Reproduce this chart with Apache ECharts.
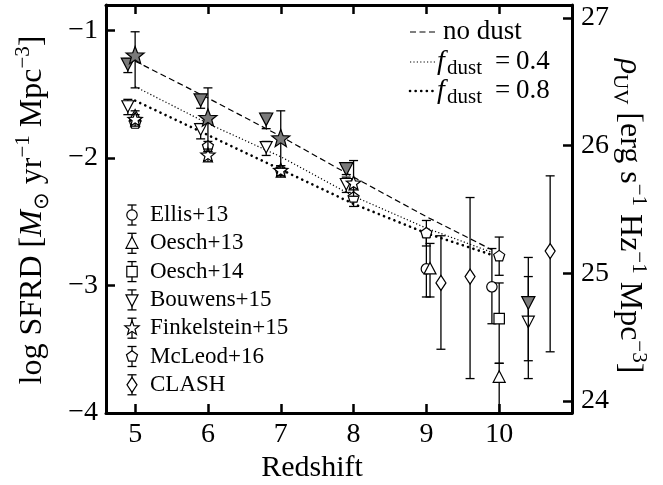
<!DOCTYPE html>
<html><head><meta charset="utf-8">
<script src="https://cdn.jsdelivr.net/npm/echarts@6/dist/echarts.min.js"></script>
<style>html,body{margin:0;padding:0;background:#fff}#c{width:663px;height:485px}</style>
</head><body><div id="c"></div>
<script>
// ---------- data ----------
const xTicks = [5, 6, 7, 8, 9, 10];
const yTicks = [-4, -3, -2, -1];
const rTicks = [24, 25, 26, 27];

const modelZ   = [5, 6, 7, 8, 9, 9.9];
const noDust   = [-1.24, -1.53, -1.83, -2.15, -2.46, -2.72];
const fDust04  = [-1.44, -1.73, -1.99, -2.30, -2.55, -2.74];
const fDust08  = [-1.55, -1.82, -2.09, -2.36, -2.59, -2.76];

const clashZ = [9.2, 9.6, 10.7];
const clashY = [-2.98, -2.93, -2.73];
const clashUp = [0.37, 0.62, 0.59];
const clashDn = [0.52, 0.80, 0.79];

const ellisZ = [9.0, 9.9];
const ellisY = [-2.87, -3.01];
const ellisUp = [0.25, 0.30];
const ellisDn = [0.22, 0.29];

const oesch13Z = [5.0, 9.05, 10.0];
const oesch13Y = [-1.67, -2.87, -3.72];
const oesch13Up = [0.04, 0.20, 0.11];
const oesch13Dn = [0.04, 0.22, 0.45];

const oesch14Z = [10.0];
const oesch14Y = [-3.26];
const oesch14Up = [0.28];
const oesch14Dn = [0.35];

const mcleodZ = [5, 6, 7, 8, 9, 10];
const mcleodY = [-1.73, -1.91, -2.10, -2.31, -2.59, -2.77];
const mcleodUp = [0.03, 0.04, 0.04, 0.06, 0.10, 0.15];
const mcleodDn = [0.03, 0.04, 0.05, 0.07, 0.10, 0.15];

const bouwensZ = [4.9, 5.9, 6.8, 7.9, 10.4];
const bouwensY = [-1.59, -1.77, -1.91, -2.20, -3.28];
const bouwensUp = [0.05, 0.04, 0.04, 0.05, 0.35];
const bouwensDn = [0.07, 0.08, 0.07, 0.07, 0.31];

const bouwensGrayZ = [4.9, 5.9, 6.8, 7.9, 10.4];
const bouwensGrayY = [-1.26, -1.54, -1.69, -2.08, -3.13];
const bouwensGrayUp = [0.04, 0.03, 0.04, 0.04, 0.35];
const bouwensGrayDn = [0.07, 0.07, 0.08, 0.05, 0.60];

const finkZ = [5, 6, 7, 8];
const finkY = [-1.70, -1.98, -2.10, -2.20];
const finkUp = [0.04, 0.05, 0.04, 0.18];
const finkDn = [0.05, 0.05, 0.04, 0.10];

const finkGrayZ = [5, 6, 7];
const finkGrayY = [-1.20, -1.69, -1.85];
const finkGrayUp = [0.19, 0.24, 0.22];
const finkGrayDn = [0.25, 0.26, 0.23];

const legendNames = ['Ellis+13', 'Oesch+13', 'Oesch+14', 'Bouwens+15', 'Finkelstein+15', 'McLeod+16', 'CLASH'];
const legendKinds = ['circle', 'triUp', 'square', 'triDown', 'star', 'pentagon', 'diamond'];

// ---------- helpers ----------
const FONT = '"Liberation Serif", "Times New Roman", serif';
const GRAY = '#7a7a7a';

function regPoly(cx, cy, R, n, rot) {
  const pts = [];
  for (let k = 0; k < n; k++) {
    const a = rot + k * 2 * Math.PI / n;
    pts.push([cx + R * Math.cos(a), cy + R * Math.sin(a)]);
  }
  return pts;
}
function starPts(cx, cy, R, r) {
  const pts = [];
  for (let k = 0; k < 10; k++) {
    const a = -Math.PI / 2 + k * Math.PI / 5;
    const rr = k % 2 === 0 ? R : r;
    pts.push([cx + rr * Math.cos(a), cy + rr * Math.sin(a)]);
  }
  return pts;
}
function markerEl(kind, cx, cy, fill, big) {
  const st = {fill: fill, stroke: '#000', lineWidth: 1.2};
  switch (kind) {
    case 'circle': return {type: 'circle', shape: {cx, cy, r: 5.2}, style: st};
    case 'square': return {type: 'rect', shape: {x: cx - 5.2, y: cy - 5.2, width: 10.4, height: 10.4}, style: st};
    case 'triUp': return {type: 'polygon', shape: {points: [[cx, cy - 6.5], [cx + 6, cy + 5], [cx - 6, cy + 5]]}, style: st};
    case 'triDown': { const s = big ? 1.1 : 1; return {type: 'polygon', shape: {points: [[cx - 6 * s, cy - 5 * s], [cx + 6 * s, cy - 5 * s], [cx, cy + 6.5 * s]]}, style: st}; }
    case 'diamond': return {type: 'polygon', shape: {points: [[cx, cy - 7.5], [cx + 5, cy], [cx, cy + 7.5], [cx - 5, cy]]}, style: st};
    case 'pentagon': return {type: 'polygon', shape: {points: regPoly(cx, cy, 5.8, 5, -Math.PI / 2)}, style: st};
    case 'star': { const R = big ? 9.5 : 7.5; return {type: 'polygon', shape: {points: starPts(cx, cy, R, R * 0.42)}, style: st}; }
  }
}
function errBarEls(x, y1, y2, w) {
  const st = {stroke: '#000', lineWidth: 1.3, fill: null};
  return [
    {type: 'line', shape: {x1: x, y1: y1, x2: x, y2: y2}, style: st},
    {type: 'line', shape: {x1: x - w, y1: y1, x2: x + w, y2: y1}, style: st},
    {type: 'line', shape: {x1: x - w, y1: y2, x2: x + w, y2: y2}, style: st}
  ];
}
function pointSeries(name, zs, ys, ups, dns, kind, fill, big) {
  return {
    type: 'custom', name: name, clip: true, z: 3,
    data: zs.map((z, i) => [z, ys[i], ups[i], dns[i]]),
    encode: {x: 0, y: 1},
    renderItem: function (params, api) {
      const z = api.value(0), y = api.value(1), up = api.value(2), dn = api.value(3);
      const c = api.coord([z, y]);
      const top = api.coord([z, y + up]);
      const bot = api.coord([z, y - dn]);
      return {type: 'group', children: errBarEls(c[0], top[1], bot[1], 4.5).concat([markerEl(kind, c[0], c[1], fill, big)])};
    }
  };
}
function lineSeries(ys, lineStyle) {
  return {type: 'line', data: modelZ.map((z, i) => [z, ys[i]]), showSymbol: false, silent: true, z: 2,
    lineStyle: Object.assign({color: '#000'}, lineStyle)};
}

// ---------- graphics (legends and axis names) ----------
const graphics = [];
const legY0 = 215, legDy = 28.3, legX = 132;
legendNames.forEach((n, i) => {
  const cy = legY0 + i * legDy;
  errBarEls(legX, cy - 10, cy + 10, 4.5).forEach(e => graphics.push(e));
  graphics.push(markerEl(legendKinds[i], legX, cy, '#fff', false));
  graphics.push({type: 'text', x: 150, y: cy, style: {text: n, fontSize: 23, fontFamily: FONT, fill: '#000', align: 'left', verticalAlign: 'middle'}});
});
// top-right legend
const tr = [
  {y: 32, dash: [6, 3.5], w: 1.2, cap: 'butt'},
  {y: 62, dash: [1.2, 2.2], w: 1.2, cap: 'butt'},
  {y: 91, dash: [0.1, 5.5], w: 2.6, cap: 'round'}
];
tr.forEach(r => graphics.push({type: 'line', shape: {x1: 410, y1: r.y, x2: 437, y2: r.y},
  style: {stroke: '#000', lineWidth: r.w, lineDash: r.dash, lineCap: r.cap}}));
graphics.push({type: 'text', x: 443, y: 32, style: {text: 'no dust', fontSize: 27, fontFamily: FONT, fill: '#000', align: 'left', verticalAlign: 'middle'}});
[['0.4', 62], ['0.8', 91]].forEach(([v, y]) => {
  graphics.push({type: 'text', x: 437, y: y, style: {text: 'f', fontSize: 28, fontStyle: 'italic', fontFamily: FONT, fill: '#000', align: 'left', verticalAlign: 'middle'}});
  graphics.push({type: 'text', x: 447, y: y + 6, style: {text: 'dust', fontSize: 21, fontFamily: FONT, fill: '#000', align: 'left', verticalAlign: 'middle'}});
  graphics.push({type: 'text', x: 495, y: y, style: {text: '=', fontSize: 27, fontFamily: FONT, fill: '#000', align: 'left', verticalAlign: 'middle'}});
  graphics.push({type: 'text', x: 516, y: y, style: {text: v, fontSize: 27, fontFamily: FONT, fill: '#000', align: 'left', verticalAlign: 'middle'}});
});
const richSup = {
  i: {fontStyle: 'italic', fontSize: 32, fontFamily: FONT, lineHeight: 40},
  sup: {fontSize: 21, fontFamily: FONT, lineHeight: 21, verticalAlign: 'top'},
  sub: {fontSize: 21, fontFamily: FONT, lineHeight: 21, verticalAlign: 'bottom'}
};
graphics.push({type: 'text', x: 33, y: 210, rotation: Math.PI / 2,
  style: {text: 'log SFRD [{i|M}{sub|\u2299} yr{sup|\u22121} Mpc{sup|\u22123}]', fontSize: 32, fontFamily: FONT, lineHeight: 40,
    fill: '#000', align: 'center', verticalAlign: 'middle', rich: richSup}});
graphics.push({type: 'text', x: 629, y: 216, rotation: -Math.PI / 2,
  style: {text: '{i|\u03C1}{sub|UV} [erg s{sup|\u22121} Hz{sup|\u22121} Mpc{sup|\u22123}]', fontSize: 32, fontFamily: FONT, lineHeight: 40,
    fill: '#000', align: 'center', verticalAlign: 'middle', rich: richSup}});
graphics.push({type: 'text', x: 312, y: 468, style: {text: 'Redshift', fontSize: 30, fontFamily: FONT, fill: '#000', align: 'center', verticalAlign: 'middle'}});

// ---------- axes ----------
const axLine = {show: true, onZero: false, lineStyle: {color: '#000', width: 3}};
const tickStyle = {color: '#000', width: 2.5};
const minusFmt = v => (v < 0 ? '\u2212' : '') + Math.abs(v);

const option = {
  animation: false,
  backgroundColor: '#fff',
  grid: {left: 106, right: 91, top: 5, bottom: 72, containLabel: false},
  xAxis: [
    {type: 'value', min: 4.6, max: 11, position: 'bottom', axisLine: axLine,
      axisTick: {show: true, inside: true, length: 9, customValues: xTicks, lineStyle: tickStyle},
      axisLabel: {customValues: xTicks, fontSize: 28, fontFamily: FONT, color: '#000', margin: 8},
      splitLine: {show: false}},
    {type: 'value', min: 4.6, max: 11, position: 'top', axisLine: axLine,
      axisTick: {show: true, inside: true, length: 9, customValues: xTicks, lineStyle: tickStyle},
      axisLabel: {show: false}, splitLine: {show: false}}
  ],
  yAxis: [
    {type: 'value', min: -4, max: -0.8, position: 'left', axisLine: axLine,
      axisTick: {show: true, inside: true, length: 9, customValues: yTicks, lineStyle: tickStyle},
      axisLabel: {customValues: yTicks, formatter: minusFmt, fontSize: 28, fontFamily: FONT, color: '#000', margin: 8},
      splitLine: {show: false}},
    {type: 'value', min: 23.905, max: 27.1, position: 'right', axisLine: axLine,
      axisTick: {show: true, inside: true, length: 9, customValues: rTicks, lineStyle: tickStyle},
      axisLabel: {customValues: rTicks, fontSize: 28, fontFamily: FONT, color: '#000', margin: 9},
      splitLine: {show: false}}
  ],
  series: [
    lineSeries(noDust, {width: 1.2, type: [6, 3.5]}),
    lineSeries(fDust04, {width: 1.2, type: [1.2, 2.2]}),
    lineSeries(fDust08, {width: 2.6, type: [0.1, 5.5], cap: 'round'}),
    pointSeries('CLASH', clashZ, clashY, clashUp, clashDn, 'diamond', '#fff'),
    pointSeries('Ellis+13', ellisZ, ellisY, ellisUp, ellisDn, 'circle', '#fff'),
    pointSeries('Oesch+13', oesch13Z, oesch13Y, oesch13Up, oesch13Dn, 'triUp', '#fff'),
    pointSeries('Oesch+14', oesch14Z, oesch14Y, oesch14Up, oesch14Dn, 'square', '#fff'),
    pointSeries('McLeod+16', mcleodZ, mcleodY, mcleodUp, mcleodDn, 'pentagon', '#fff'),
    pointSeries('Bouwens+15', bouwensZ, bouwensY, bouwensUp, bouwensDn, 'triDown', '#fff'),
    pointSeries('Bouwens+15 (corr)', bouwensGrayZ, bouwensGrayY, bouwensGrayUp, bouwensGrayDn, 'triDown', GRAY, true),
    pointSeries('Finkelstein+15', finkZ, finkY, finkUp, finkDn, 'star', '#fff'),
    pointSeries('Finkelstein+15 (corr)', finkGrayZ, finkGrayY, finkGrayUp, finkGrayDn, 'star', GRAY, true)
  ],
  graphic: graphics
};
const chart = echarts.init(document.getElementById('c'));
chart.setOption(option);
</script>
</body></html>
